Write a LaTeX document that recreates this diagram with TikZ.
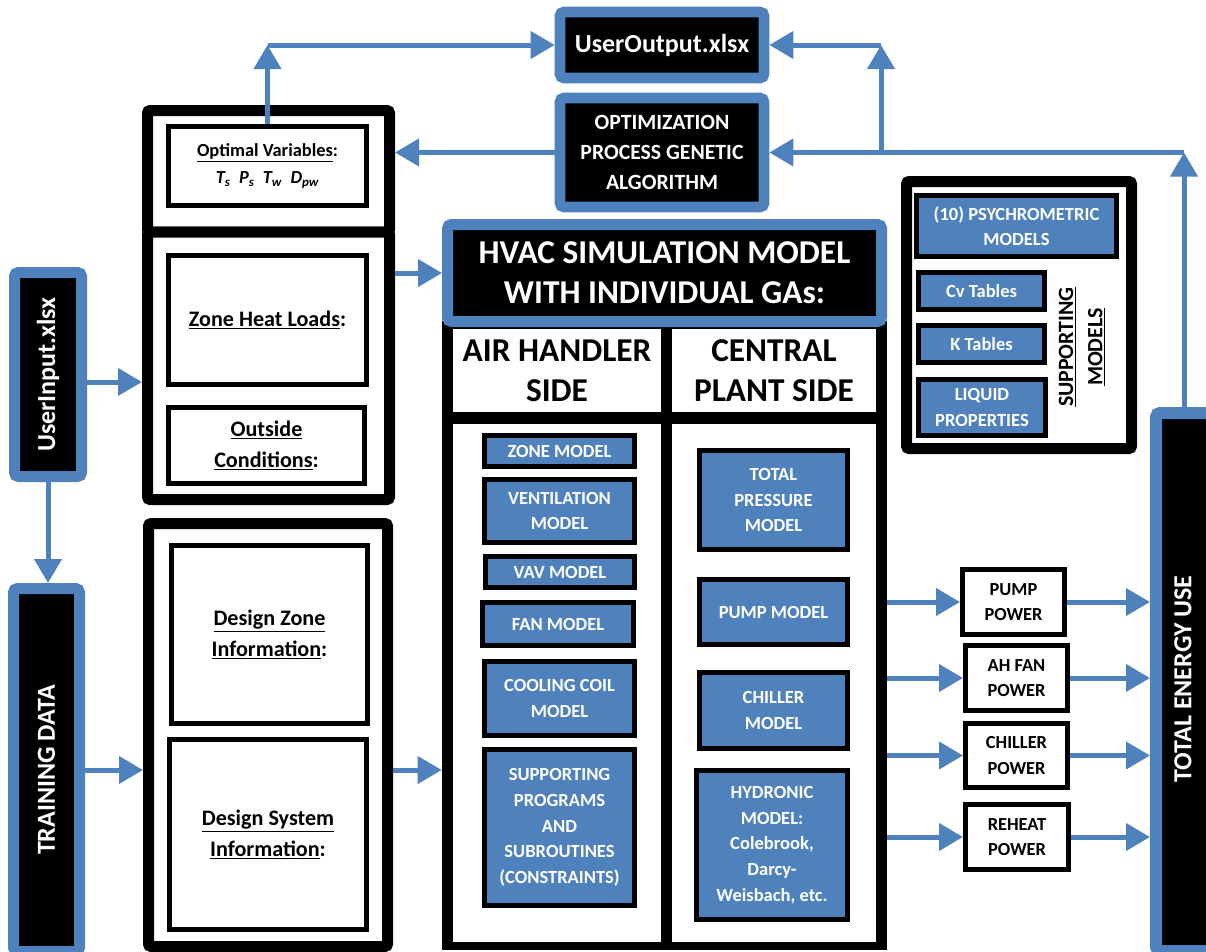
\documentclass[tikz,border=0pt]{standalone}
\usepackage{fontspec}
\setmainfont{Carlito}
\usetikzlibrary{arrows.meta}
\definecolor{bleu}{RGB}{79,129,189}
\begin{document}
\begin{tikzpicture}[x=0.75pt,y=-0.75pt]
	\tikzstyle{fleche}=[->,>={Triangle[length=18pt,width=20pt]},line width=3.75pt,color=bleu]
	\tikzstyle{fichier}=[draw=bleu,fill=black,line width=8pt,rounded corners=3pt,text=white,inner sep=0pt,align=center]
	\tikzstyle{cadre}=[draw=black,fill=white,line width=8.25pt,rounded corners=2pt,inner sep=0pt]
	\tikzstyle{boite}=[draw=black,fill=white,line width=3.75pt,inner sep=0pt,align=center]
	\tikzstyle{modele}=[boite,fill=bleu,text=white,font=\TailleModele]
	\tikzstyle{puissance}=[boite,font=\TaillePuissance]
	\tikzstyle{case}=[fill=white,inner sep=0pt,align=center]
	\def\px{0.75pt}
	\def\TailleFichier{\fontsize{19.5}{24}\selectfont\bfseries}
	\def\TailleOptim{\fontsize{16.3}{22.5}\selectfont\bfseries}
	\def\TailleEntete{\fontsize{25}{30}\selectfont\bfseries}
	\def\TailleCadre{\fontsize{16.6}{23.2}\selectfont\bfseries}
	\def\TailleVar{\fontsize{13.8}{20}\selectfont\bfseries}
	\def\TailleModele{\fontsize{13.9}{19.2}\selectfont\bfseries}
	\def\TaillePuissance{\fontsize{13.8}{18.8}\selectfont\bfseries}
	\def\TailleSupport{\fontsize{16.4}{22}\selectfont\bfseries}
	\useasboundingbox (0,0) rectangle (1206,951);
	% fichiers et optimisation
	\node[fichier,minimum width=204*\px,minimum height=66*\px,font=\TailleFichier] (Sortie) at (662,45) {UserOutput.xlsx};
	\node[fichier,minimum width=204*\px,minimum height=109*\px,font=\TailleOptim] (Optim) at (662,152.5) {OPTIMIZATION\\PROCESS GENETIC\\ALGORITHM};
	\node[fichier,line width=8.25pt,minimum width=67*\px,minimum height=204*\px] (UserIn) at (48,374.5) {};
	\node[rotate=90,text=white,font=\TailleFichier] (UserInTexte) at (UserIn) {UserInput.xlsx};
	\node[fichier,line width=8.25pt,minimum width=66*\px,minimum height=363*\px] (Training) at (46.5,770) {};
	\node[rotate=90,text=white,font=\TailleFichier] (TrainingTexte) at (46.5,770) {TRAINING DATA};
	% cadres de gauche
	\node[cadre,minimum width=242*\px,minimum height=121.5*\px] (Haut) at (268.5,171.25) {};
	\node[cadre,minimum width=242*\px,minimum height=267.5*\px] (Bas) at (268.5,365.75) {};
	\node[boite,minimum width=198*\px,minimum height=79*\px,font=\TailleVar] (VarOpt) at (267.5,166) {\underline{Optimal Variables}:\\\itshape T\textsubscript{s}\ \ P\textsubscript{s}\ \ T\textsubscript{w}\ \ D\textsubscript{pw}};
	\node[boite,minimum width=198*\px,minimum height=129*\px,font=\TailleCadre] (Charges) at (267.5,320) {\underline{Zone Heat Loads}:};
	\node[boite,minimum width=196*\px,minimum height=76*\px,font=\TailleCadre] (Exterieur) at (266.5,445.5) {\underline{Outside}\\\underline{Conditions}:};
	\node[cadre,minimum width=239*\px,minimum height=423*\px] (CadreBas) at (268,735) {};
	\node[boite,minimum width=196*\px,minimum height=178*\px,font=\TailleCadre] (ZoneDesign) at (269.5,634.5) {\underline{Design Zone}\\\underline{Information}:};
	\node[boite,minimum width=197*\px,minimum height=190*\px,font=\TailleCadre] (SysDesign) at (268,834.5) {\underline{Design System}\\\underline{Information}:};
	% modele HVAC
	\node[fill=black,inner sep=0pt,minimum width=445*\px,minimum height=629*\px] (Corps) at (664.5,635.5) {};
	\node[case,minimum width=208*\px,minimum height=83*\px,font=\TailleEntete] (TeteAir) at (557,370.5) {AIR HANDLER\\SIDE};
	\node[case,minimum width=204*\px,minimum height=83*\px,font=\TailleEntete] (TeteCentrale) at (774,370.5) {CENTRAL\\PLANT SIDE};
	\node[case,minimum width=208*\px,minimum height=518*\px] (ColAir) at (557,683) {};
	\node[case,minimum width=204*\px,minimum height=518*\px] (ColCentrale) at (774,683) {};
	\node[fichier,line width=8.25pt,minimum width=434*\px,minimum height=97*\px,font=\TailleEntete] (Entete) at (664.5,273) {HVAC SIMULATION MODEL\\WITH INDIVIDUAL GAs:};
	\node[modele,minimum width=150*\px,minimum height=31*\px] (Zone) at (559.5,451) {ZONE MODEL};
	\node[modele,minimum width=150*\px,minimum height=63*\px] (Ventilation) at (559.5,511) {VENTILATION\\MODEL};
	\node[modele,minimum width=149*\px,minimum height=31*\px] (Vav) at (560,572) {VAV MODEL};
	\node[modele,minimum width=151*\px,minimum height=43*\px] (Ventilo) at (558,624) {FAN MODEL};
	\node[modele,minimum width=150*\px,minimum height=74*\px] (Batterie) at (559.5,698.5) {COOLING COIL\\MODEL};
	\node[modele,minimum width=150*\px,minimum height=156*\px] (Programmes) at (559.5,827.5) {SUPPORTING\\PROGRAMS\\AND\\SUBROUTINES\\(CONSTRAINTS)};
	\node[modele,minimum width=148*\px,minimum height=99*\px] (Pression) at (773.5,500) {TOTAL\\PRESSURE\\MODEL};
	\node[modele,minimum width=148*\px,minimum height=65*\px] (PompeMod) at (773.5,612) {PUMP MODEL};
	\node[modele,minimum width=148*\px,minimum height=76*\px] (GroupeMod) at (773.5,710.5) {CHILLER\\MODEL};
	\node[modele,minimum width=151*\px,minimum height=149*\px] (Hydro) at (772,845) {HYDRONIC\\MODEL:\\Colebrook,\\Darcy-\\Weisbach, etc.};
	% modeles de support
	\node[cadre,minimum width=225*\px,minimum height=267*\px] (Support) at (1019,315) {};
	\node[modele,minimum width=200*\px,minimum height=61*\px] (Psychro) at (1016.5,226) {(10) PSYCHROMETRIC\\MODELS};
	\node[modele,minimum width=126*\px,minimum height=37*\px] (Cv) at (981.5,291) {Cv Tables};
	\node[modele,minimum width=126*\px,minimum height=37*\px] (Kt) at (981.5,344) {K Tables};
	\node[modele,minimum width=127*\px,minimum height=56*\px] (Liquide) at (982,407.5) {LIQUID\\PROPERTIES};
	\node[rotate=90,align=center,font=\TailleSupport] (SupportTexte) at (1082,347) {\underline{SUPPORTING}\\\underline{MODELS}};
	% puissances et energie
	\node[fichier,line width=9pt,minimum width=56*\px,minimum height=538*\px] (Energie) at (1184,682) {};
	\node[rotate=90,text=white,font=\TailleFichier] (EnergieTexte) at (1183,679) {TOTAL ENERGY USE};
	\node[puissance,minimum width=102*\px,minimum height=65*\px] (Pompe) at (1013.5,602) {PUMP\\POWER};
	\node[puissance,minimum width=102*\px,minimum height=65*\px] (VentiloP) at (1016.5,678) {AH FAN\\POWER};
	\node[puissance,minimum width=102*\px,minimum height=64*\px] (Groupe) at (1016.5,755.5) {CHILLER\\POWER};
	\node[puissance,minimum width=103*\px,minimum height=65*\px] (Rechauffe) at (1017,837) {REHEAT\\POWER};
	% connexions
	\coordinate (CoinG) at (267.5,45);
	\coordinate (CoinD) at (1184,152.5);
	\coordinate (Bif) at (881,152.5);
	\coordinate (CoinH) at (881,45);
	\draw[fleche] (VarOpt.north) -- (CoinG);
	\draw[fleche] (CoinG) -- (Sortie.west);
	\draw[fleche] (Energie.north) -- (CoinD);
	\draw[fleche] (CoinD) -- (Optim.east);
	\draw[fleche] (Bif) -- (CoinH);
	\draw[fleche] (CoinH) -- (Sortie.east);
	\draw[fleche] (Optim.west) -- (Optim.west -| Haut.east);
	\draw[fleche] (Bas.east |- Entete.west) -- (Entete.west);
	\draw[fleche] (UserIn.east |- 0,382) -- (Bas.west |- 0,382);
	\draw[fleche] (UserIn.south) -- (UserIn.south |- Training.north);
	\draw[fleche] (Training.east) -- (Training.east -| CadreBas.west);
	\draw[fleche] (CadreBas.east |- Training.east) -- (Corps.west |- Training.east);
	\foreach \p in {Pompe,VentiloP,Groupe,Rechauffe} {
		\draw[fleche] (Corps.east |- \p.west) -- (\p.west);
		\draw[fleche] (\p.east) -- (\p.east -| Energie.west);
	}
\end{tikzpicture}
\end{document}
